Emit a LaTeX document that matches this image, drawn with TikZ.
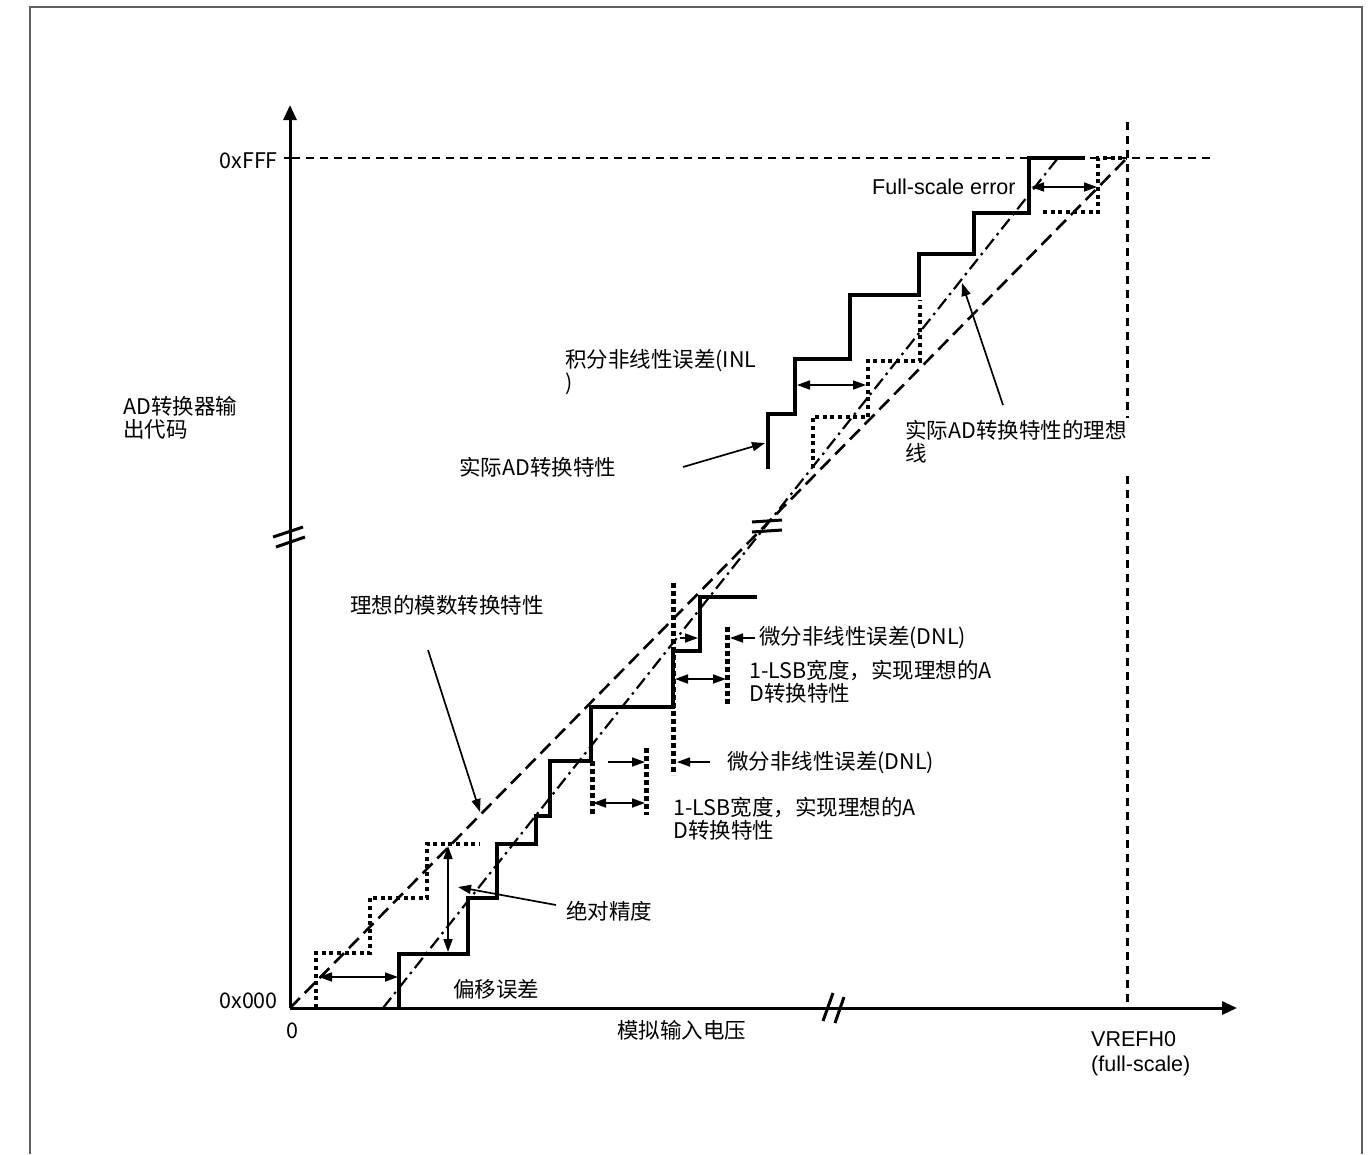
\documentclass[tikz,border=0pt]{standalone}
\usepackage{fontspec}
\setmainfont{Liberation Sans}
\newfontfamily\cjk{Noto Sans CJK SC}
\usetikzlibrary{arrows.meta}
\definecolor{rim}{RGB}{95,95,95}

\begin{document}
\begin{tikzpicture}[x=1pt, y=-1pt,
		lbl/.style={font=\cjk\fontsize{21.5}{23}\selectfont, inner sep=0pt, align=left, anchor=base west},
		axis/.style={line width=3pt, -{Triangle[length=15pt,width=13pt]}},
		stairs/.style={line width=3.2pt},
		dotstairs/.style={line width=4.6pt, dash pattern=on 4pt off 3.6pt},
		dnlmark/.style={line width=5pt, dash pattern=on 5pt off 3pt},
		ideal/.style={line width=2.6pt, dash pattern=on 14pt off 7pt},
		realideal/.style={line width=2.2pt, dash pattern=on 13pt off 5pt on 2.5pt off 5pt},
		guide/.style={line width=2.4pt, dash pattern=on 8pt off 6pt},
		pointer/.style={line width=1.7pt, -{Triangle[length=13pt,width=9pt]}},
		dim/.style={line width=1.7pt, {Triangle[length=13pt,width=9pt]}-{Triangle[length=13pt,width=9pt]}},
		brk/.style={line width=3pt}]
	\useasboundingbox (0,0) rectangle (1370,1154);
	\draw[rim, line width=2.2pt] (30,1154) -- (30,7) -- (1362,7) -- (1362,1154);
	\coordinate (O) at (290,1008);
	\coordinate (fs) at (1127,158);
	\coordinate (ri0) at (383,1008);
	\coordinate (ri1) at (1058,158);
	% reference lines
	\draw[guide] (292,158) -- (1210,158);
	\draw[guide, line width=3pt] (1127,122) -- (1127,418);
	\draw[guide, line width=3pt] (1127,476) -- (1127,1005);
	\draw[ideal] (O) -- (fs);
	\draw[realideal] (ri0) -- (ri1);
	% axes
	\draw[axis] (O) -- (290,105);
	\draw[axis] (O) -- (1237,1008);
	\draw[line width=1.8pt] (284,158) -- (290,158);
	\draw[brk] (273,537) -- (303,527);
	\draw[brk] (276,547) -- (305,537);
	\draw[brk] (823,1021) -- (833,993);
	\draw[brk] (835,1023) -- (844,997);
	\draw[brk] (752,522) -- (782,520);
	\draw[brk] (752,532) -- (782,530);
	% ideal steps
	\draw[dotstairs] (316,1008) -- (316,953) -- (370,953) -- (370,898) -- (427,898) -- (427,844) -- (480,844);
	\draw[dotstairs] (813,468) -- (813,417) -- (868,417) -- (868,361) -- (920,361) -- (920,300);
	\draw[dotstairs] (1043,212) -- (1098,212) -- (1098,158) -- (1127,158);
	\foreach \x/\ya/\yb in {592/761/815, 646/748/815, 673/583/775, 727/627/705}
		\draw[dnlmark] (\x,\ya) -- (\x,\yb);
	% actual steps
	\draw[stairs] (399,1008) -- (399,954) -- (468,954) -- (468,898) -- (497,898) -- (497,844) -- (536,844)
		-- (536,816) -- (550,816) -- (550,761) -- (591,761) -- (591,707) -- (673,707) -- (673,651)
		-- (700,651) -- (700,597) -- (757,597);
	\draw[stairs] (768,469) -- (768,414) -- (795,414) -- (795,359) -- (850,359) -- (850,295) -- (919,295)
		-- (919,254) -- (974,254) -- (974,213) -- (1029,213) -- (1029,158) -- (1085,158);
	% labels
	\node[lbl, anchor=base east] (hi) at (278,168) {0xFFF};
	\node[lbl, anchor=base east] (lo) at (278,1008) {0x000};
	\node[lbl, anchor=base] (zero) at (292,1038) {0};
	\node[lbl] (vin) at (617,1038) {模拟输入电压};
	\node[lbl, font=\fontsize{21.5}{25}\selectfont] (vref) at (1091,1071) {VREFH0\\(full-scale)};
	\node[lbl] (code) at (123,437) {AD转换器输\\出代码};
	\node[lbl] (offset) at (453,997) {偏移误差};
	\node[lbl] (accur) at (566,919) {绝对精度};
	\node[lbl] (idealtxt) at (350,613) {理想的模数转换特性};
	\node[lbl] (lsblo) at (673,838) {1-LSB宽度，实现理想的A\\D转换特性};
	\node[lbl] (dnllo) at (727,769) {微分非线性误差(DNL)};
	\node[lbl] (lsbhi) at (749,701) {1-LSB宽度，实现理想的A\\D转换特性};
	\node[lbl] (dnlhi) at (759,644) {微分非线性误差(DNL)};
	\node[lbl] (realtxt) at (459,475) {实际AD转换特性};
	\node[lbl] (inl) at (565,390) {积分非线性误差(INL\\)};
	\node[lbl] (realline) at (905,461) {实际AD转换特性的理想\\线};
	\node[lbl, font=\fontsize{21.5}{23}\selectfont] (fserr) at (872,194) {Full-scale error};
	% pointers
	\coordinate (p1a) at (428,650); \coordinate (p1b) at (480,812);
	\coordinate (p2a) at (556,905); \coordinate (p2b) at (458,887);
	\coordinate (p3a) at (683,467); \coordinate (p3b) at (765,443);
	\coordinate (p4a) at (1003,405); \coordinate (p4b) at (962,283);
	\coordinate (p5a) at (710,762); \coordinate (p5b) at (677,762);
	\coordinate (p6a) at (755,638); \coordinate (p6b) at (730,638);
	\coordinate (p7a) at (608,762); \coordinate (p7b) at (645,762);
	\coordinate (p8a) at (680,638); \coordinate (p8b) at (698,638);
	\foreach \i in {1,...,8}
		\draw[pointer] (p\i a) -- (p\i b);
	% dimensions
	\coordinate (d1a) at (319,977); \coordinate (d1b) at (398,977);
	\coordinate (d2a) at (448,846); \coordinate (d2b) at (448,952);
	\coordinate (d3a) at (593,803); \coordinate (d3b) at (645,803);
	\coordinate (d4a) at (675,679); \coordinate (d4b) at (726,679);
	\coordinate (d5a) at (797,385); \coordinate (d5b) at (866,385);
	\coordinate (d6a) at (1031,187); \coordinate (d6b) at (1097,187);
	\foreach \i in {1,...,6}
		\draw[dim] (d\i a) -- (d\i b);
\end{tikzpicture}
\end{document}
